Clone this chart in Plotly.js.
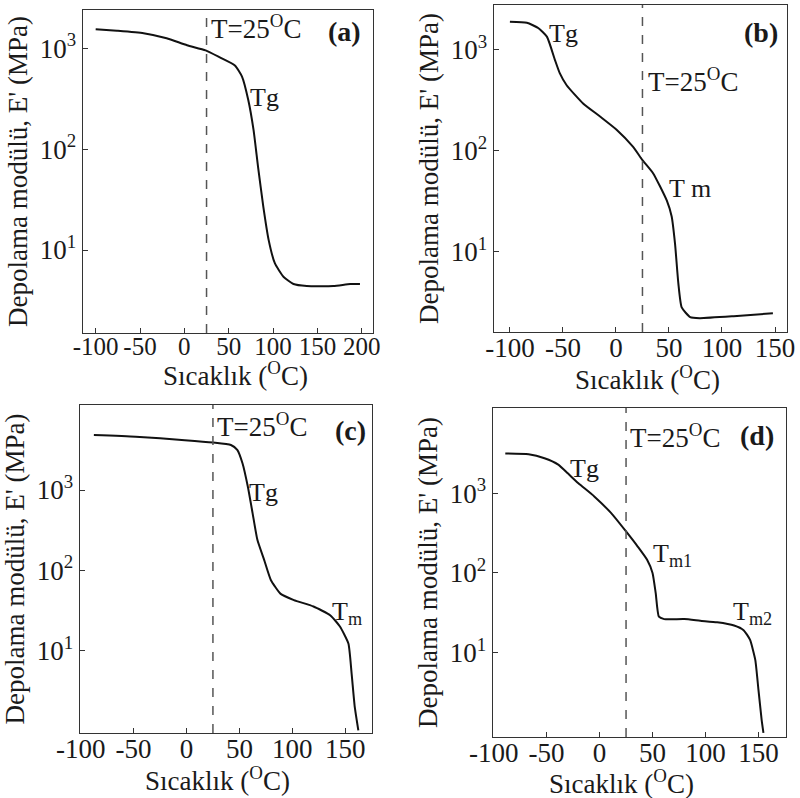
<!DOCTYPE html>
<html>
<head>
<meta charset="utf-8">
<script src="https://cdn.plot.ly/plotly-3.0.1.min.js"></script>
<style>html,body{margin:0;padding:0;background:#fff;}#chart{width:800px;height:798px;}</style>
</head>
<body>
<div id="chart"></div>
<script>
// ---- Data ----
const refTemp = 25;

const tempA = [-100, -76, -46, -20, 3, 24, 40, 57, 65, 72, 78, 83, 89, 95, 102, 112, 123, 138, 168, 187, 198];
const modA  = [1549, 1496, 1413, 1259, 1072, 955, 813, 676, 525, 309, 155, 67.6, 26.9, 12.6, 7.4, 5.4, 4.6, 4.4, 4.4, 4.6, 4.6];

const tempB = [-100, -84, -73, -65, -57.5, -53, -46.5, -31, -15, 0.6, 16, 25, 35, 48, 52.5, 55.7, 58.8, 62, 70, 79, 111, 148];
const modB  = [1905, 1862, 1641, 1349, 794, 589, 447, 295, 219, 162, 110, 81, 60, 32, 22.4, 12, 4.9, 2.8, 2.24, 2.19, 2.29, 2.45];

const tempC = [-87.5, -48, -1.6, 25, 42, 48, 53, 58, 62.5, 67, 73.4, 79.7, 89, 101.5, 120, 136, 145, 153, 156, 159, 162.4];
const modC  = [4842, 4613, 4169, 3890, 3631, 3162, 2138, 1096, 513, 240, 135, 76, 51, 42.7, 35.5, 27.5, 20, 12.3, 5.25, 2.0, 1.02];

const tempD = [-89, -67, -52, -39, -30, -20, -5, 11, 25, 36, 45, 50, 53, 56, 61, 80, 95, 111, 127, 136, 142, 147, 150, 153, 154.7];
const modD  = [3162, 3090, 2754, 2291, 1778, 1334, 912, 562, 331, 214, 145, 100, 55.6, 28.2, 26.3, 26.3, 25.1, 24, 21.9, 19.1, 14.5, 8.1, 3.4, 1.43, 0.98];

const xTicksA = [-100, -50, 0, 50, 100, 150, 200];
const xTicksBCD = [-100, -50, 0, 50, 100, 150];
const yTickVals = [10, 100, 1000];
const yTickText = ['10<sup>1</sup>', '10<sup>2</sup>', '10<sup>3</sup>'];

const xTitle = 'Sıcaklık (<sup>O</sup>C)';
const yTitle = "Depolama modülü, E' (MPa)";

// ---- Layout helpers ----
const W = 800, H = 798;
const px = x => x / W;
const py = y => 1 - y / H;
const FONT = 'Liberation Serif, serif';
const INK = '#1a1a1a';

function xAxis(dom, range, ticks, anchor, fs) {
  return {
    domain: dom, range: range, anchor: anchor,
    tickmode: 'array', tickvals: ticks, ticktext: ticks.map(String), tickangle: 0,
    ticks: 'inside', ticklen: 5, tickwidth: 1, tickcolor: '#333',
    showline: true, linecolor: '#333', linewidth: 1.3, mirror: true,
    showgrid: false, zeroline: false, ticklabelstandoff: -9,
    tickfont: {family: FONT, size: fs || 27, color: INK},
    automargin: false
  };
}
function yAxis(dom, range, anchor) {
  return {
    domain: dom, range: range, anchor: anchor, type: 'log',
    tickmode: 'array', tickvals: yTickVals, ticktext: yTickText,
    ticks: 'inside', ticklen: 5, tickwidth: 1, tickcolor: '#333',
    showline: true, linecolor: '#333', linewidth: 1.3, mirror: true,
    showgrid: false, zeroline: false,
    tickfont: {family: FONT, size: 27, color: INK},
    title: {text: yTitle, font: {family: FONT, size: 27, color: INK}, standoff: 4},
    automargin: false
  };
}

const lineStyle = {color: '#111', width: 2, shape: 'spline', smoothing: 0.5};
const traces = [
  {x: tempA, y: modA, xaxis: 'x', yaxis: 'y', mode: 'lines', line: lineStyle, showlegend: false},
  {x: tempB, y: modB, xaxis: 'x2', yaxis: 'y2', mode: 'lines', line: lineStyle, showlegend: false},
  {x: tempC, y: modC, xaxis: 'x3', yaxis: 'y3', mode: 'lines', line: lineStyle, showlegend: false},
  {x: tempD, y: modD, xaxis: 'x4', yaxis: 'y4', mode: 'lines', line: lineStyle, showlegend: false}
];

function dashLine(xr, yr) {
  return {type: 'line', xref: xr, yref: yr + ' domain', x0: refTemp, x1: refTemp, y0: 0, y1: 1,
          line: {color: '#555', width: 1.5, dash: 'dash'}};
}

function ann(text, x, y, size, bold) {
  return {text: bold ? '<b>' + text + '</b>' : text, xref: 'paper', yref: 'paper',
          x: px(x), y: py(y), xanchor: 'center', yanchor: 'middle', showarrow: false,
          font: {family: FONT, size: size, color: INK}};
}

const layout = {
  width: W, height: H,
  margin: {l: 0, r: 0, t: 0, b: 0},
  paper_bgcolor: '#fff', plot_bgcolor: '#fff',
  showlegend: false,
  xaxis:  xAxis([px(83), px(373)], [-114.3, 212.7], xTicksA, 'y', 25),
  yaxis:  yAxis([py(333), py(10)], [0.177, 3.38], 'x'),
  xaxis2: xAxis([px(494), px(787)], [-115, 161.3], xTicksBCD, 'y2'),
  yaxis2: yAxis([py(332), py(5)], [0.203, 3.446], 'x2'),
  xaxis3: xAxis([px(80), px(372)], [-100.6, 175.3], xTicksBCD, 'y3'),
  yaxis3: yAxis([py(733), py(405)], [-0.024, 4.058], 'x3'),
  xaxis4: xAxis([px(493), px(786)], [-100.6, 176], xTicksBCD, 'y4'),
  yaxis4: yAxis([py(737), py(408)], [-0.06, 4.07], 'x4'),
  shapes: [dashLine('x', 'y'), dashLine('x2', 'y2'), dashLine('x3', 'y3'), dashLine('x4', 'y4')],
  annotations: [
    ann(xTitle, 235, 374, 27),
    ann(xTitle, 647, 378, 27),
    ann(xTitle, 217, 779, 27),
    ann(xTitle, 621, 782, 27),
    ann('T=25<sup>O</sup>C', 256, 27, 27),
    ann('(a)', 344, 31, 28, true),
    ann('Tg', 264, 98, 26),
    ann('Tg', 563, 34, 26),
    ann('T=25<sup>O</sup>C', 693, 80, 27),
    ann('(b)', 761, 32, 28, true),
    ann('T m', 690, 188, 26),
    ann('T=25<sup>O</sup>C', 262, 425, 27),
    ann('(c)', 350, 430, 28, true),
    ann('Tg', 263, 492, 26),
    ann('T<sub>m</sub>', 347, 613, 26),
    ann('T=25<sup>O</sup>C', 675, 436, 27),
    ann('(d)', 757, 435, 28, true),
    ann('Tg', 584, 468, 26),
    ann('T<sub>m1</sub>', 672, 555, 26),
    ann('T<sub>m2</sub>', 752, 613, 26)
  ]
};

Plotly.newPlot('chart', traces, layout, {staticPlot: true, displayModeBar: false});
</script>
</body>
</html>
